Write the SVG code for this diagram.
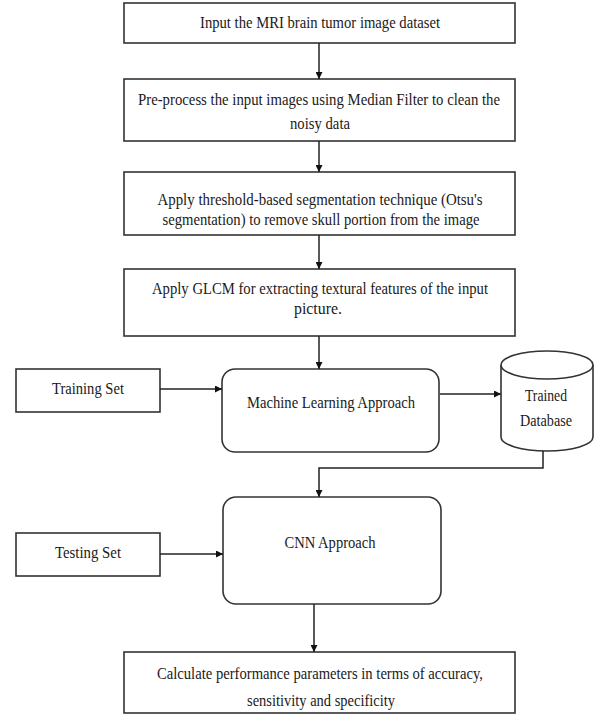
<svg xmlns="http://www.w3.org/2000/svg" width="595" height="715" viewBox="0 0 595 715">
<defs>
<marker id="ah" viewBox="0 0 10 10" refX="10" refY="5" markerWidth="7" markerHeight="7" markerUnits="userSpaceOnUse" orient="auto">
<path d="M0,0 L10,5 L0,10 Z" fill="#111"/>
</marker>
</defs>
<style>
.box{fill:#fff;stroke:#333;stroke-width:1.6}
.t{font-family:"Liberation Serif","Times New Roman",serif;font-size:17.5px;fill:#1a1a1a;text-anchor:middle}
.c{fill:none;stroke:#222;stroke-width:1.5;marker-end:url(#ah)}
</style>
<rect width="595" height="715" fill="#fff"/>
<g id="n1"><rect class="box" x="124" y="3" width="391" height="40"/>
<text class="t" x="320" y="28" textLength="240" lengthAdjust="spacingAndGlyphs">Input the MRI brain tumor image dataset</text></g>
<g id="n2"><rect class="box" x="124" y="79" width="391" height="62"/>
<text class="t" x="319" y="105" textLength="362" lengthAdjust="spacingAndGlyphs">Pre-process the input images using Median Filter to clean the</text>
<text class="t" x="320" y="129" textLength="60" lengthAdjust="spacingAndGlyphs">noisy data</text></g>
<g id="n3"><rect class="box" x="124" y="172" width="391" height="63"/>
<text class="t" x="320" y="205" textLength="325" lengthAdjust="spacingAndGlyphs">Apply threshold-based segmentation technique (Otsu's</text>
<text class="t" x="321" y="225" textLength="317" lengthAdjust="spacingAndGlyphs">segmentation) to remove skull portion from the image</text></g>
<g id="n4"><rect class="box" x="124" y="269" width="391" height="67"/>
<text class="t" x="320" y="294" textLength="336" lengthAdjust="spacingAndGlyphs">Apply GLCM for extracting textural features of the input</text>
<text class="t" x="318" y="314" textLength="48" lengthAdjust="spacingAndGlyphs">picture.</text></g>
<g id="train"><rect class="box" x="16" y="369" width="144" height="43"/>
<text class="t" x="88" y="394" textLength="72" lengthAdjust="spacingAndGlyphs">Training Set</text></g>
<g id="ml"><rect class="box" x="222" y="369" width="217" height="83" rx="13"/>
<text class="t" x="331" y="408" textLength="168" lengthAdjust="spacingAndGlyphs">Machine Learning Approach</text></g>
<g id="db">
<path class="box" d="M501,365 L501,437 A46,14 0 0 0 593,437 L593,365"/>
<ellipse class="box" cx="547" cy="365" rx="46" ry="14"/>
<text class="t" x="546" y="401" textLength="42" lengthAdjust="spacingAndGlyphs">Trained</text>
<text class="t" x="546" y="426" textLength="52" lengthAdjust="spacingAndGlyphs">Database</text></g>
<g id="test"><rect class="box" x="16" y="533" width="144" height="43"/>
<text class="t" x="88" y="558" textLength="66" lengthAdjust="spacingAndGlyphs">Testing Set</text></g>
<g id="cnn"><rect class="box" x="223" y="497" width="218" height="107" rx="13"/>
<text class="t" x="330" y="548" textLength="91" lengthAdjust="spacingAndGlyphs">CNN Approach</text></g>
<g id="final"><rect class="box" x="124" y="652" width="391" height="61"/>
<text class="t" x="320" y="679" textLength="326" lengthAdjust="spacingAndGlyphs">Calculate performance parameters in terms of accuracy,</text>
<text class="t" x="321" y="706" textLength="148" lengthAdjust="spacingAndGlyphs">sensitivity and specificity</text></g>
<g id="connectors">
<path class="c" d="M319,43 L319,79"/>
<path class="c" d="M319,141 L319,172"/>
<path class="c" d="M319,235 L319,269"/>
<path class="c" d="M319,336 L319,369"/>
<path class="c" d="M160,389 L222,389"/>
<path class="c" d="M440,394 L501,394"/>
<path class="c" d="M543,451 L543,468 L319,468 L319,497"/>
<path class="c" d="M160,554 L223,554"/>
<path class="c" d="M314,604 L314,652"/>
</g>
</svg>
